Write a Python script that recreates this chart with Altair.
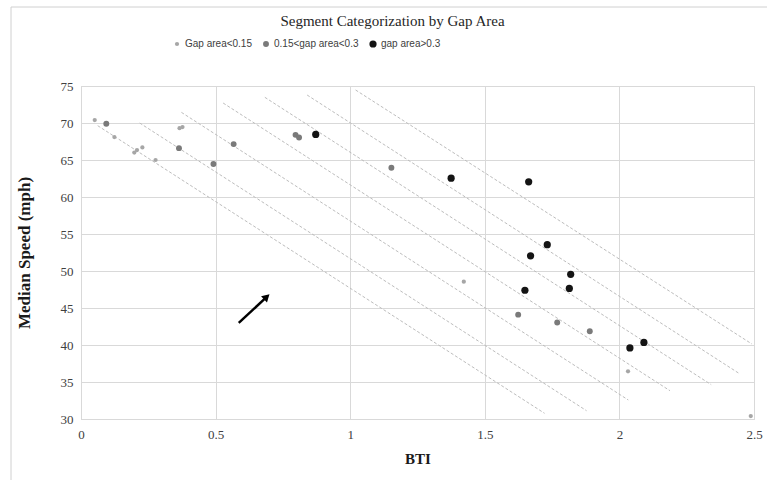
import altair as alt
import pandas as pd

# Segment measurements: BTI vs median speed, split by gap area class
groups = ["Gap area<0.15", "0.15<gap area<0.3", "gap area>0.3"]

bti_low = [0.051, 0.124, 0.198, 0.208, 0.228, 0.277, 0.366, 0.377, 1.422, 2.032, 2.488]
spd_low = [70.4, 68.1, 66.0, 66.35, 66.7, 65.0, 69.3, 69.45, 48.55, 36.45, 30.4]

bti_mid = [0.094, 0.364, 0.492, 0.567, 0.797, 0.810, 1.153, 1.624, 1.769, 1.890]
spd_mid = [69.9, 66.6, 64.45, 67.15, 68.4, 68.05, 63.95, 44.1, 43.05, 41.85]

bti_high = [0.872, 1.375, 1.663, 1.732, 1.670, 1.819, 1.814, 1.649, 2.039, 2.091]
spd_high = [68.45, 62.55, 62.05, 53.55, 52.05, 49.55, 47.65, 47.4, 39.6, 40.35]

# Dashed guide lines (start and end points)
guide_x1 = [0.062, 0.218, 0.373, 0.528, 0.683, 0.840, 1.020]
guide_y1 = [69.64, 70.0, 71.44, 72.70, 73.47, 73.78, 74.46]
guide_x2 = [1.722, 1.878, 2.033, 2.188, 2.341, 2.442, 2.492]
guide_y2 = [30.77, 31.12, 32.57, 33.82, 34.64, 36.22, 40.14]

# Arrow annotation
arrow_x = [0.586, 0.690]
arrow_y = [43.0, 46.5]

x_ticks = [0, 0.5, 1, 1.5, 2, 2.5]
y_ticks = [30, 35, 40, 45, 50, 55, 60, 65, 70, 75]

colors = ["#a6a6a6", "#7a7a7a", "#141414"]
sizes = [18, 52, 72]

pts = pd.concat([
    pd.DataFrame({"BTI": bti_low, "Speed": spd_low, "group": groups[0]}),
    pd.DataFrame({"BTI": bti_mid, "Speed": spd_mid, "group": groups[1]}),
    pd.DataFrame({"BTI": bti_high, "Speed": spd_high, "group": groups[2]}),
], ignore_index=True)

guides = pd.DataFrame({"x1": guide_x1, "y1": guide_y1, "x2": guide_x2, "y2": guide_y2})
arrow = pd.DataFrame({"x1": [arrow_x[0]], "y1": [arrow_y[0]], "x2": [arrow_x[1]], "y2": [arrow_y[1]]})

serif = "Liberation Serif"
sans = "Liberation Sans"

xscale = alt.Scale(domain=[0, 2.5], nice=False)
yscale = alt.Scale(domain=[30, 75], nice=False, zero=False)

x_axis = alt.Axis(values=x_ticks, format="~g", title="BTI", labelFont=serif, labelFontSize=13,
                  labelColor="#404040", titleFont=serif, titleFontSize=15, titleFontWeight="bold",
                  titleColor="#1a1a1a", ticks=False, labelPadding=9, titlePadding=10,
                  gridColor="#d9d9d9", domainColor="#d9d9d9", labelFlush=False)
y_axis = alt.Axis(values=y_ticks, format="~g", title="Median Speed (mph)", labelFont=serif,
                  labelFontSize=13, labelColor="#404040", titleFont=serif, titleFontSize=17,
                  titleFontWeight="bold", titleColor="#1a1a1a", ticks=False, labelPadding=8,
                  titlePadding=27, gridColor="#d9d9d9", domainColor="#d9d9d9")

legend = alt.Legend(title=None, orient="none", direction="horizontal", legendX=91, legendY=-47,
                    labelFont=sans, labelFontSize=10, labelColor="#404040", columnPadding=9,
                    labelOffset=3, symbolType="circle")

frame = alt.Chart(pd.DataFrame({"a": [0]})).mark_rect(
    fill=None, stroke="#d0d0d0", strokeWidth=1
).encode(x=alt.value(-70), x2=alt.value(720), y=alt.value(-79), y2=alt.value(440))

guide_lines = alt.Chart(guides).mark_rule(
    color="#bdbdbd", strokeWidth=1, strokeDash=[3, 2]
).encode(
    x=alt.X("x1:Q", scale=xscale, axis=x_axis),
    y=alt.Y("y1:Q", scale=yscale, axis=y_axis),
    x2="x2:Q", y2="y2:Q",
)

points = alt.Chart(pts).mark_circle(opacity=1).encode(
    x=alt.X("BTI:Q", scale=xscale, axis=x_axis),
    y=alt.Y("Speed:Q", scale=yscale, axis=y_axis),
    color=alt.Color("group:N", scale=alt.Scale(domain=groups, range=colors), legend=legend),
    size=alt.Size("group:N", scale=alt.Scale(domain=groups, range=sizes), legend=legend),
)

arrow_line = alt.Chart(arrow).mark_rule(color="#000000", strokeWidth=2.5).encode(
    x=alt.X("x1:Q", scale=xscale, axis=x_axis), y=alt.Y("y1:Q", scale=yscale, axis=y_axis),
    x2="x2:Q", y2="y2:Q"
)
arrow_head = alt.Chart(arrow).mark_point(
    shape="triangle-up", filled=True, color="#000000", size=75, angle=47, opacity=1
).encode(x=alt.X("x2:Q", scale=xscale, axis=x_axis), y=alt.Y("y2:Q", scale=yscale, axis=y_axis))

chart = alt.layer(frame, guide_lines, points, arrow_line, arrow_head).properties(
    width=673, height=333,
    title=alt.TitleParams("Segment Categorization by Gap Area", font=serif, fontSize=15,
                          fontWeight="normal", color="#262626", anchor="middle", offset=-22, dx=-25),
    autosize=alt.AutoSizeParams(type="none"),
    padding={"left": 81, "top": 86, "right": 13, "bottom": 61},
).configure_view(stroke="#d9d9d9").configure(background="white")

chart.save("out.html", embed_options={"renderer": "svg", "actions": False})
